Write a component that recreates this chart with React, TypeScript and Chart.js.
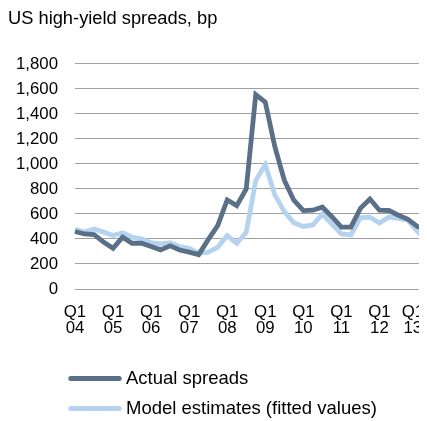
import React, { useEffect, useRef } from "react";
import { Chart, registerables } from "chart.js";
Chart.register(...registerables);

const categories = [
  "Q1 04", "Q2 04", "Q3 04", "Q4 04",
  "Q1 05", "Q2 05", "Q3 05", "Q4 05",
  "Q1 06", "Q2 06", "Q3 06", "Q4 06",
  "Q1 07", "Q2 07", "Q3 07", "Q4 07",
  "Q1 08", "Q2 08", "Q3 08", "Q4 08",
  "Q1 09", "Q2 09", "Q3 09", "Q4 09",
  "Q1 10", "Q2 10", "Q3 10", "Q4 10",
  "Q1 11", "Q2 11", "Q3 11", "Q4 11",
  "Q1 12", "Q2 12", "Q3 12", "Q4 12",
  "Q1 13", "Q2 13",
];

const actualSpreads = [
  460, 440, 436, 375, 325, 415, 366, 366, 340, 313, 345, 312,
  295, 275, 395, 507, 712, 667, 800, 1555, 1495, 1140, 870, 710,
  627, 630, 655, 578, 495, 495, 645, 720, 630, 628, 590, 558, 499, 482,
];

const modelEstimates = [
  477, 455, 480, 455, 428, 450, 415, 402, 370, 360, 370, 340,
  325, 285, 295, 333, 427, 365, 453, 867, 995, 755, 619, 530,
  500, 512, 600, 520, 440, 432, 570, 575, 528, 575, 562, 550, 460, 390,
];

const seriesNames = ["Actual spreads", "Model estimates (fitted values)"];
const seriesColors = ["#5a7088", "#b5d3ef"];
const titleText = "US high-yield spreads, bp";
const yMin = 0;
const yMax = 1800;
const yStep = 200;

const FONT = "'Liberation Sans', Arial, sans-serif";

const legendPlugin = {
  id: "customLegend",
  afterDraw(chart: any) {
    const ctx = chart.ctx;
    ctx.save();
    chart.data.datasets.forEach((ds: any, i: number) => {
      const y = 370.5 + i * 30;
      ctx.strokeStyle = ds.borderColor;
      ctx.lineWidth = 5;
      ctx.lineCap = "round";
      ctx.beginPath();
      ctx.moveTo(62.8, y);
      ctx.lineTo(111.2, y);
      ctx.stroke();
      ctx.fillStyle = "#000";
      ctx.font = `18.5px ${FONT}`;
      ctx.textBaseline = "middle";
      ctx.textAlign = "left";
      ctx.fillText(ds.label, 118, y + 0.5);
    });
    ctx.restore();
  },
};

export default function App() {
  const ref = useRef<HTMLCanvasElement | null>(null);
  useEffect(() => {
    if (!ref.current) return;
    const lastQ1 = categories.map((c) => c.startsWith("Q1")).lastIndexOf(true);
    const chart = new Chart(ref.current, {
      type: "line",
      data: {
        labels: categories,
        datasets: [
          {
            label: seriesNames[0],
            data: actualSpreads,
            borderColor: seriesColors[0],
            backgroundColor: seriesColors[0],
            borderWidth: 4.8,
            pointRadius: 0,
            tension: 0,
          },
          {
            label: seriesNames[1],
            data: modelEstimates,
            borderColor: seriesColors[1],
            backgroundColor: seriesColors[1],
            borderWidth: 4.8,
            pointRadius: 0,
            tension: 0,
          },
        ],
      },
      options: {
        responsive: false,
        animation: false,
        devicePixelRatio: 1,
        layout: { padding: { top: 0, left: 0, right: 0, bottom: 80 } },
        plugins: {
          legend: { display: false },
          tooltip: { enabled: false },
          title: {
            display: true,
            text: titleText,
            align: "start",
            color: "#000",
            font: { family: FONT, size: 18.3, weight: "normal", lineHeight: 1.2 },
            padding: { top: 0, bottom: 34 },
          },
        },
        scales: {
          x: {
            grid: { display: false, drawTicks: false },
            border: { display: false },
            afterFit(scale: any) {
              scale.height = 50;
              scale.paddingRight = 0;
              scale.paddingLeft = 0;
            },
            ticks: {
              autoSkip: false,
              maxRotation: 0,
              minRotation: 0,
              padding: 15,
              color: "#000",
              font: { family: FONT, size: 16.8, lineHeight: "16px" },
              callback: (_v: any, i: number) => {
                const c = categories[i];
                if (!c.startsWith("Q1")) return "";
                const parts = c.split(" ");
                if (i === lastQ1) return parts.map((p) => p + "\u00a0\u00a0");
                return parts;
              },
            },
          },
          y: {
            min: yMin,
            max: yMax,
            grid: { color: "#a0a0a0", lineWidth: 1, drawTicks: false },
            border: { display: false },
            afterFit(scale: any) {
              scale.width = 67;
            },
            ticks: {
              stepSize: yStep,
              padding: 17,
              color: "#000",
              font: { family: FONT, size: 16.8 },
              callback: (v: any) => Number(v).toLocaleString("en-US"),
            },
          },
        },
      },
      plugins: [legendPlugin],
    });
    return () => chart.destroy();
  }, []);
  return (
    <div style={{ width: 419, height: 411 }}>
      <canvas ref={ref} width={419} height={411} style={{ display: "block" }} />
    </div>
  );
}
